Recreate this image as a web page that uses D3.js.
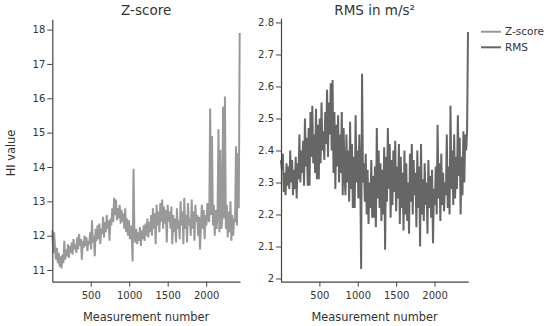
<!DOCTYPE html>
<html>
<head>
<meta charset="utf-8">
<script src="https://cdn.jsdelivr.net/npm/d3@7"></script>
<style>
  html, body { margin: 0; padding: 0; background: #fff; }
  svg { display: block; font-family: "DejaVu Sans", Verdana, sans-serif; }
</style>
</head>
<body>
<svg id="chart" width="550" height="326"></svg>
<script>
// ---- Data ----
const measurementStep = 12;   // spacing between plotted measurements
const xTicks = [500, 1000, 1500, 2000];
const zTicks = [11, 12, 13, 14, 15, 16, 17, 18];
const rmsTicks = [2, 2.1, 2.2, 2.3, 2.4, 2.5, 2.6, 2.7, 2.8];
const seriesNames = ["Z-score", "RMS"];
const panelTitles = ["Z-score", "RMS in m/s²"];

const zScore = [
  12.15, 11.5, 12.1, 11.6, 11.3, 11.65, 11.2, 11.5, 11.1, 11.4,
  11.05, 11.45, 11.2, 11.85, 11.3, 11.6, 11.4, 11.75, 11.35, 11.7,
  11.5, 11.8, 11.45, 11.9, 11.6, 11.75, 11.5, 11.95, 11.6, 12.05,
  11.7, 11.9, 11.3, 11.85, 11.65, 12.0, 11.7, 11.95, 11.55, 11.85,
  11.75, 12.1, 11.6, 12.45, 11.8, 12.0, 11.4, 12.2, 11.85, 12.3,
  11.9, 12.35, 11.75, 12.2, 12.05, 12.55, 11.95, 12.4, 12.1, 12.6,
  12.2, 12.45, 11.85, 12.5, 12.3, 12.8, 12.4, 13.1, 12.6, 13.05,
  12.45, 12.8, 12.5, 12.9, 12.35, 12.75, 12.4, 12.65, 12.2, 12.8,
  12.1, 12.5, 12.0, 12.45, 11.9, 12.3, 12.05, 11.25, 13.95, 12.0,
  11.8, 12.2, 11.75, 12.1, 11.85, 12.25, 11.7, 12.15, 11.9, 12.3,
  11.85, 12.35, 12.0, 12.5, 11.95, 12.4, 12.1, 12.6, 12.0, 12.8,
  12.2, 12.65, 11.75, 12.9, 12.3, 12.7, 12.1, 12.95, 12.4, 13.05,
  12.2, 12.85, 12.35, 12.75, 11.8, 12.9, 12.4, 12.7, 12.2, 12.85,
  11.75, 12.6, 12.1, 12.5, 11.8, 12.8, 12.2, 12.45, 11.9, 13.0,
  12.3, 12.7, 11.75, 13.1, 12.2, 12.6, 11.8, 12.95, 12.3, 12.5,
  12.0, 13.05, 12.2, 12.7, 11.85, 12.9, 12.4, 12.6, 12.0, 12.55,
  11.6, 12.3, 12.9, 12.2, 12.75, 11.9, 12.6, 12.3, 12.95, 12.5,
  12.4, 15.7, 12.6, 14.9, 12.3, 12.9, 12.0, 12.75, 12.2, 12.6,
  15.1, 12.1, 14.5, 12.2, 12.4, 15.75, 12.5, 16.05, 12.2, 12.9,
  11.95, 12.7, 12.1, 13.0, 11.85, 12.6, 12.0, 12.5, 12.4, 14.6,
  12.3, 14.4, 12.8, 17.9
];

const rms = [
  2.37, 2.34, 2.39, 2.27, 2.33, 2.26, 2.36, 2.29, 2.35, 2.28,
  2.40, 2.30, 2.37, 2.26, 2.34, 2.28, 2.38, 2.25, 2.36, 2.31,
  2.45, 2.30, 2.40, 2.33, 2.43, 2.29, 2.50, 2.35, 2.44, 2.29,
  2.47, 2.29, 2.52, 2.38, 2.54, 2.36, 2.45, 2.33, 2.53, 2.31,
  2.48, 2.31, 2.50, 2.36, 2.55, 2.40, 2.46, 2.37, 2.52, 2.42,
  2.59, 2.38, 2.55, 2.45, 2.61, 2.40, 2.62, 2.33, 2.52, 2.28,
  2.48, 2.35, 2.51, 2.30, 2.45, 2.33, 2.52, 2.26, 2.47, 2.32,
  2.26, 2.45, 2.30, 2.40, 2.24, 2.49, 2.28, 2.42, 2.22, 2.38,
  2.22, 2.51, 2.30, 2.40, 2.25, 2.45, 2.33, 2.03, 2.64, 2.30,
  2.36, 2.24, 2.39, 2.20, 2.34, 2.17, 2.30, 2.22, 2.37, 2.19,
  2.32, 2.19, 2.35, 2.16, 2.47, 2.25, 2.40, 2.22, 2.36, 2.18,
  2.34, 2.20, 2.41, 2.09, 2.38, 2.24, 2.47, 2.28, 2.42, 2.19,
  2.37, 2.23, 2.40, 2.27, 2.43, 2.21, 2.35, 2.25, 2.42, 2.17,
  2.38, 2.22, 2.33, 2.15, 2.40, 2.20, 2.36, 2.18, 2.30, 2.14,
  2.39, 2.24, 2.42, 2.20, 2.37, 2.26, 2.33, 2.16, 2.40, 2.22,
  2.35, 2.10, 2.42, 2.20, 2.31, 2.18, 2.36, 2.23, 2.30, 2.14,
  2.37, 2.22, 2.32, 2.19, 2.34, 2.11, 2.28, 2.23, 2.35, 2.20,
  2.48, 2.25, 2.36, 2.18, 2.39, 2.23, 2.33, 2.21, 2.30, 2.26,
  2.45, 2.22, 2.35, 2.20, 2.54, 2.28, 2.40, 2.23, 2.45, 2.25,
  2.38, 2.28, 2.51, 2.32, 2.44, 2.20, 2.38, 2.26, 2.46, 2.30,
  2.45, 2.40, 2.46, 2.77
];

// ---- Layout ----
const svg = d3.select("#chart");
const textColor = "#333";
const axisColor = "#444";
const colors = { "Z-score": "#999999", "RMS": "#666666" };
const xDomain = [0, 2440];

const panels = [
  { title: panelTitles[0], values: zScore, color: colors["Z-score"],
    xRange: [52.3, 240], yDomain: [10.66, 18.3], yRange: [281.7, 19.3], ticks: zTicks,
    fmt: d3.format("d") },
  { title: panelTitles[1], values: rms, color: colors["RMS"],
    xRange: [281, 468.3], yDomain: [1.99, 2.813], yRange: [281.7, 18.3], ticks: rmsTicks,
    fmt: d => String(+d.toFixed(1)) }
];

panels.forEach((p) => {
  const x = d3.scaleLinear().domain(xDomain).range(p.xRange);
  const y = d3.scaleLinear().domain(p.yDomain).range(p.yRange);
  const g = svg.append("g");

  // line
  const line = d3.line()
    .x((d, i) => x(i * measurementStep))
    .y(d => y(d));
  g.append("path")
    .datum(p.values)
    .attr("d", line)
    .attr("fill", "none")
    .attr("stroke", p.color)
    .attr("stroke-width", 2)
    .attr("stroke-linejoin", "miter")
    .attr("stroke-miterlimit", 2);

  // x axis
  const xa = g.append("g")
    .attr("transform", `translate(0,${p.yRange[0]})`)
    .call(d3.axisBottom(x).tickValues(xTicks).tickFormat(d3.format("d"))
      .tickSize(5).tickSizeOuter(0).tickPadding(5));
  // y axis
  const ya = g.append("g")
    .attr("transform", `translate(${p.xRange[0]},0)`)
    .call(d3.axisLeft(y).tickValues(p.ticks).tickFormat(p.fmt)
      .tickSize(5).tickSizeOuter(0).tickPadding(2));

  [xa, ya].forEach(a => {
    a.select(".domain").attr("stroke", axisColor).attr("stroke-width", 1.2);
    a.selectAll(".tick line").attr("stroke", axisColor);
    a.selectAll(".tick text").attr("fill", textColor)
      .style("font-family", "'DejaVu Sans', Verdana, sans-serif").style("font-size", "10px");
  });

  const cx = (p.xRange[0] + p.xRange[1]) / 2;
  g.append("text")
    .attr("x", cx).attr("y", 15)
    .attr("text-anchor", "middle")
    .attr("fill", textColor)
    .style("font-size", "13.5px")
    .text(p.title);

  g.append("text")
    .attr("x", cx).attr("y", 321)
    .attr("text-anchor", "middle")
    .attr("fill", textColor)
    .style("font-size", "11.4px")
    .text("Measurement number");
});

// y-axis title
svg.append("text")
  .attr("transform", "translate(15,153) rotate(-90)")
  .attr("text-anchor", "middle")
  .attr("fill", textColor)
  .style("font-size", "11.4px")
  .text("HI value");

// legend
const legend = svg.append("g");
seriesNames.forEach((name, i) => {
  const ly = 31.7 + i * 15.6;
  legend.append("line")
    .attr("x1", 481).attr("x2", 501)
    .attr("y1", ly).attr("y2", ly)
    .attr("stroke", colors[name]).attr("stroke-width", 2);
  legend.append("text")
    .attr("x", 505).attr("y", ly)
    .attr("dy", "0.35em")
    .attr("fill", textColor)
    .style("font-size", "10.5px")
    .text(name);
});
</script>
</body>
</html>
